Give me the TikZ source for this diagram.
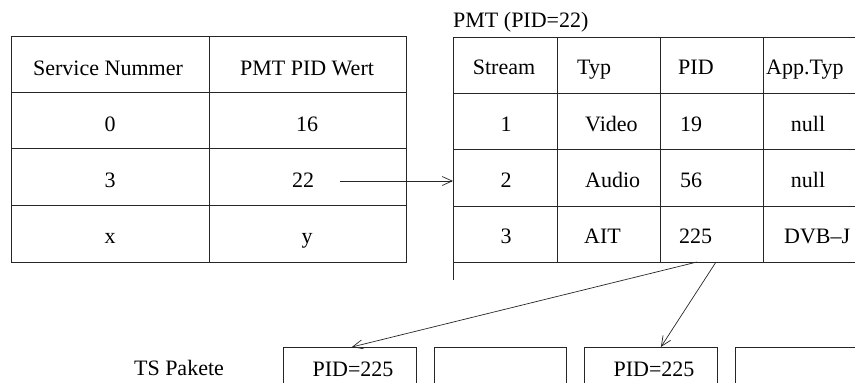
\documentclass[tikz,border=0pt]{standalone}
\usepackage{fontspec}
\setmainfont{Liberation Serif}
\usetikzlibrary{arrows.meta}
\begin{document}
\begin{tikzpicture}[x=1pt,y=-1pt,
  ln/.style={line width=0.8pt, draw=black!85},
  txt/.style={inner sep=0pt, anchor=base, font=\fontsize{22}{26}\selectfont},
  txtw/.style={txt, anchor=base west},
  ar/.style={line width=0.7pt, draw=black!85, -{Straight Barb[length=10pt,width=9pt]}},
  pkt/.style={draw=black!85, line width=0.8pt, inner sep=0pt, anchor=north west, minimum height=80pt}]
\useasboundingbox (0,0) rectangle (855,383);
\clip (0,0) rectangle (855,383);
% left table
\draw[ln] (11,36) rectangle (406,262);
\draw[ln] (209,36) -- (209,262);
\foreach \y in {92,148,205} \draw[ln] (11,\y) -- (406,\y);
\node[txt] (sn) at (108,75) {Service Nummer};
\node[txt] (pw) at (307,75) {PMT PID Wert};
\node[txt] (s0) at (110,131) {0};
\node[txt] (p16) at (307,131) {16};
\node[txt] (s3) at (110,187) {3};
\node[txt] (p22) at (303,187) {22};
\node[txt] (sx) at (110,243) {x};
\node[txt] (py) at (307,243) {y};
% right table
\node[txtw] (pmt) at (453,27) {PMT (PID=22)};
\draw[ln] (453,37) -- (453,280);
\foreach \y in {37,93,149,206,262} \draw[ln] (453,\y) -- (855,\y);
\foreach \x in {557,660,763} \draw[ln] (\x,37) -- (\x,262);
\node[txt] (hs) at (504,74) {Stream};
\node[txtw] (ht) at (577,74) {Typ};
\node[txtw] (hp) at (678,74) {PID};
\node[txtw] (ha) at (766,74) {App.Typ};
\node[txt] (r1) at (506,131) {1};
\node[txtw] (t1) at (585,131) {Video};
\node[txtw] (i1) at (680,131) {19};
\node[txt] (a1) at (808,131) {null};
\node[txt] (r2) at (506,187) {2};
\node[txtw] (t2) at (585,187) {Audio};
\node[txtw] (i2) at (680,187) {56};
\node[txt] (a2) at (808,187) {null};
\node[txt] (r3) at (506,243) {3};
\node[txtw] (t3) at (584,243) {AIT};
\node[txtw] (i3) at (679,243) {225};
\node[txtw] (a3) at (784,243) {DVB--J};
% TS packets
\node[txt] (tsl) at (179,375) {TS Pakete};
\node[pkt, minimum width=133pt] (ts1) at (283,347) {};
\node[pkt, minimum width=132pt] (ts2) at (434,347) {};
\node[pkt, minimum width=133pt] (ts3) at (584,347) {};
\node[pkt, minimum width=140pt] (ts4) at (735,347) {};
\node[txt] (ts1t) at (353,376) {PID=225};
\node[txt] (ts3t) at (654,376) {PID=225};
% connectors
\coordinate (c22) at (340,181);
\coordinate (pmtin) at (453,181);
\coordinate (o1) at (697,262);
\coordinate (o2) at (716,262);
\draw[ar] (c22) -- (pmtin);
\draw[ar] (o1) -- ([xshift=2pt]ts1.north);
\draw[ar] (o2) -- ([xshift=10pt]ts3.north);
\end{tikzpicture}
\end{document}
